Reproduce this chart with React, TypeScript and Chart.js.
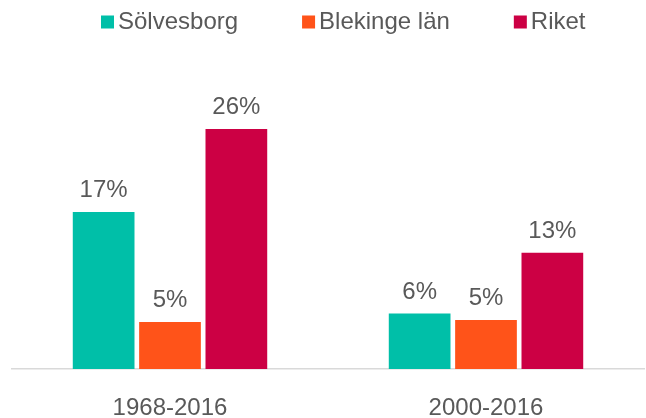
import React, { useEffect, useRef } from "react";
import { Chart, registerables } from "chart.js";

Chart.register(...registerables);

const categories = ["1968-2016", "2000-2016"];
const seriesNames = ["Sölvesborg", "Blekinge län", "Riket"];
const solvesborg = [17.0, 6.0];
const blekinge = [5.1, 5.3];
const riket = [26.0, 12.6];
const colors = ["#00BFA8", "#FF5319", "#CC0044"];

const FONT = "'Liberation Sans', Arial, sans-serif";
const TEXT = "#595959";

const labelPlugin = {
  id: "valueLabels",
  afterDatasetsDraw(chart: any) {
    const ctx = chart.ctx;
    ctx.save();
    ctx.font = `24px ${FONT}`;
    ctx.fillStyle = TEXT;
    ctx.textAlign = "center";
    ctx.textBaseline = "alphabetic";
    chart.data.datasets.forEach((ds: any, di: number) => {
      const meta = chart.getDatasetMeta(di);
      meta.data.forEach((bar: any, i: number) => {
        const v = ds.data[i];
        ctx.fillText(`${Math.round(v)}%`, bar.x, bar.y - 15);
      });
    });
    ctx.restore();
  },
};

const legendPlugin = {
  id: "customLegend",
  afterDraw(chart: any) {
    const ctx = chart.ctx;
    ctx.save();
    ctx.font = `24px ${FONT}`;
    ctx.textBaseline = "alphabetic";
    ctx.textAlign = "left";
    const box = 13;
    const gap = 4;
    const itemGap = 64;
    let x = 101;
    const baseY = 28.5;
    chart.data.datasets.forEach((ds: any) => {
      ctx.fillStyle = ds.backgroundColor;
      ctx.fillRect(x, baseY - box, box, box);
      ctx.fillStyle = TEXT;
      const tx = x + box + gap;
      ctx.fillText(ds.label, tx, baseY);
      x = tx + ctx.measureText(ds.label).width + itemGap;
    });
    ctx.restore();
  },
};

export default function App() {
  const ref = useRef<HTMLCanvasElement | null>(null);
  useEffect(() => {
    if (!ref.current) return;
    const seriesData = [solvesborg, blekinge, riket];
    const chart = new Chart(ref.current, {
      type: "bar",
      data: {
        labels: categories,
        datasets: seriesNames.map((name, i) => ({
          label: name,
          data: seriesData[i],
          backgroundColor: colors[i],
          borderWidth: 0,
          categoryPercentage: 0.63,
          barPercentage: 0.93,
        })),
      },
      options: {
        animation: false,
        responsive: true,
        maintainAspectRatio: false,
        layout: { padding: { top: 92, left: 12, right: 2, bottom: 0 } },
        plugins: {
          legend: { display: false },
          tooltip: { enabled: false },
        },
        scales: {
          x: {
            grid: { display: false, drawTicks: false },
            border: { display: true, color: "#D9D9D9", width: 1.5 },
            ticks: {
              color: TEXT,
              font: { family: FONT, size: 24 },
              padding: 25,
              maxRotation: 0,
            },
            afterFit: (scale: any) => {
              scale.height = 49;
            },
          },
          y: {
            display: false,
            min: 0,
            max: 30,
          },
        },
      },
      plugins: [labelPlugin, legendPlugin],
    });
    return () => chart.destroy();
  }, []);
  return (
    <div style={{ position: "fixed", left: 0, top: 0, width: 646, height: 418, background: "#fff" }}>
      <canvas ref={ref} />
    </div>
  );
}
